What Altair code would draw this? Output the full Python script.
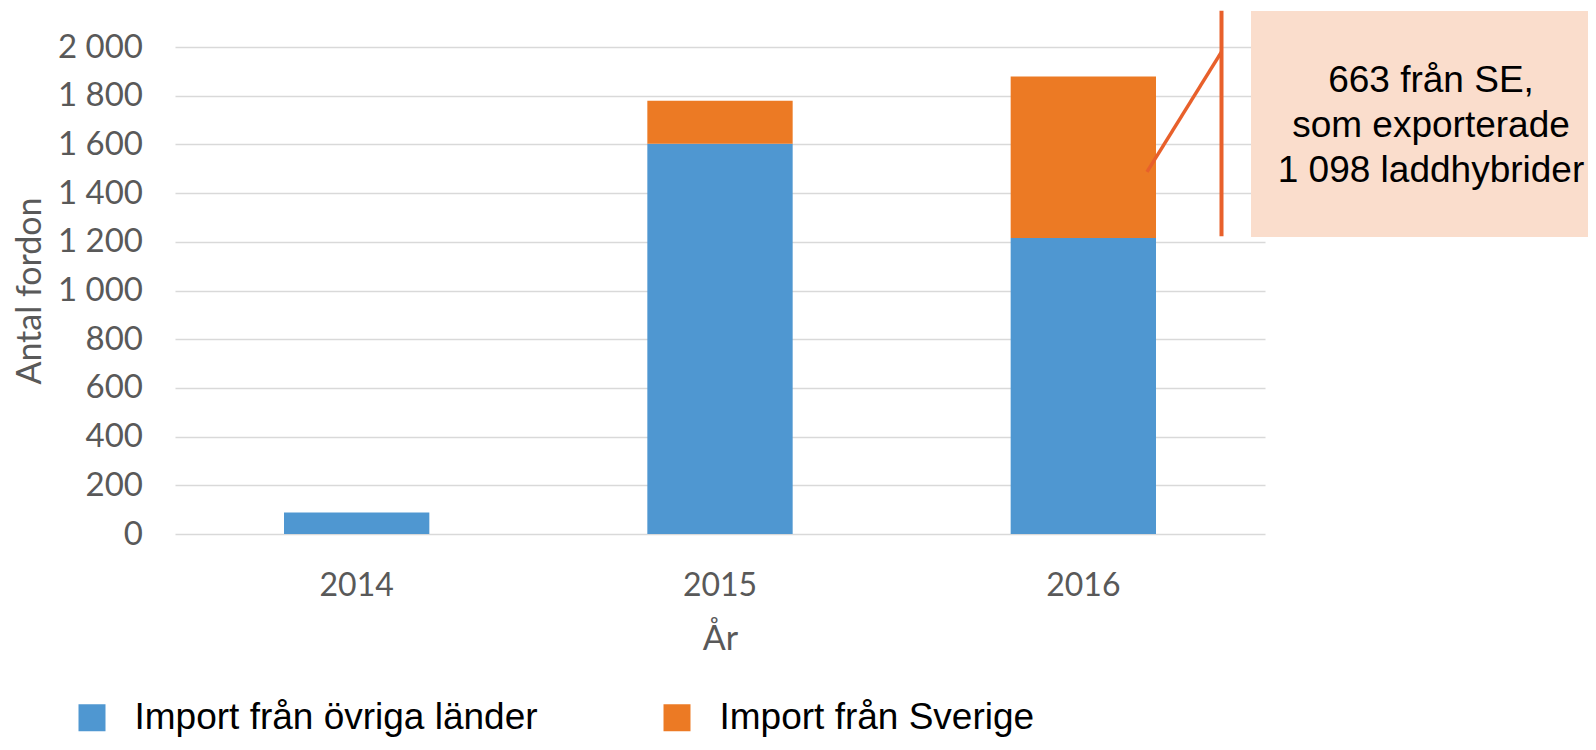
import altair as alt
import pandas as pd

# ---- data ----
years = ["2014", "2015", "2016"]
series = ["Import från övriga länder", "Import från Sverige"]
ovriga = [88, 1603, 1216]
sverige = [0, 176, 663]
colors = ["#4F97D1", "#EC7A24"]
y_ticks = [0, 200, 400, 600, 800, 1000, 1200, 1400, 1600, 1800, 2000]

# annotation (callout) texts and their value-levels
note_lines = ["663 från SE,", "som exporterade", "1 098 laddhybrider"]
note_line_y = [1816, 1631, 1446]
callout_vertical = [2149, 1223]      # y from / to of vertical callout line
callout_diag = [1487, 1980]          # y from (in bar) / to (at vertical line)
box_y = [2148, 1220]

rows = []
for i, yr in enumerate(years):
    rows.append({"year": yr, "series": series[0], "value": ovriga[i], "ord": 0})
    rows.append({"year": yr, "series": series[1], "value": sverige[i], "ord": 1})
df = pd.DataFrame(rows)

W, H = 1090, 487
# horizontal placement of callout elements (plot-relative pixels)
X_VLINE = 1046.5
X_DIAG_START = 972
X_BOX_L = 1076
X_BOX_R = 1421
X_TEXT = 1256

AXIS_FONT = "Lato"
AXIS_COLOR = "#595959"

y_scale = alt.Scale(domain=[0, 2000], nice=False, zero=True)

bars = alt.Chart(df).mark_bar().encode(
    x=alt.X("year:N", sort=years,
            scale=alt.Scale(paddingInner=0.6, paddingOuter=0.3),
            axis=alt.Axis(title="År", labelAngle=0, domain=False, ticks=False, tickSize=0,
                          labelPadding=61.5, labelBaseline="alphabetic",
                          labelFont=AXIS_FONT, labelFontSize=32, labelColor=AXIS_COLOR,
                          titleFont=AXIS_FONT, titleFontSize=34, titleColor=AXIS_COLOR,
                          titleFontWeight="normal", titleBaseline="alphabetic", titleY=115)),
    y=alt.Y("value:Q", stack="zero", scale=y_scale,
            axis=alt.Axis(title="Antal fordon", values=y_ticks, domain=False, ticks=False, tickSize=0,
                          labelPadding=32.5, gridColor="#D9D9D9", gridWidth=1.5,
                          labelExpr="replace(format(datum.value, ','), ',', ' ')",
                          labelFont=AXIS_FONT, labelFontSize=33, labelColor=AXIS_COLOR,
                          titleFont=AXIS_FONT, titleFontSize=34, titleColor=AXIS_COLOR,
                          titleFontWeight="normal", titleBaseline="alphabetic", titleX=-135)),
    color=alt.Color("series:N", sort=series,
                    scale=alt.Scale(domain=series, range=colors),
                    legend=alt.Legend(title=None, orient="none", direction="horizontal",
                                      legendX=-101.5, legendY=652, padding=0,
                                      symbolType="square", symbolSize=729, symbolStrokeWidth=0,
                                      symbolOpacity=1,
                                      labelFont="Liberation Sans", labelFontSize=37,
                                      labelColor="black", labelLimit=700, labelOffset=24,
                                      columnPadding=120)),
    order=alt.Order("ord:Q"),
)

box_df = pd.DataFrame({"value": [box_y[0]], "value2": [box_y[1]]})
box = alt.Chart(box_df).mark_rect(color="#FADDCC").encode(
    x=alt.value(X_BOX_L), x2=alt.value(X_BOX_R),
    y=alt.Y("value:Q", scale=y_scale), y2="value2:Q",
)

vline_df = pd.DataFrame({"value": [callout_vertical[0]], "value2": [callout_vertical[1]]})
vline = alt.Chart(vline_df).mark_rule(color="#E8602B", strokeWidth=4).encode(
    x=alt.value(X_VLINE), y=alt.Y("value:Q", scale=y_scale), y2="value2:Q",
)

diag_df = pd.DataFrame({"value": [callout_diag[0]], "value2": [callout_diag[1]]})
diag = alt.Chart(diag_df).mark_rule(color="#E8602B", strokeWidth=3.5).encode(
    x=alt.value(X_DIAG_START), x2=alt.value(X_VLINE),
    y=alt.Y("value:Q", scale=y_scale), y2="value2:Q",
)

text_df = pd.DataFrame({"t": note_lines, "value": note_line_y})
text = alt.Chart(text_df).mark_text(font="Liberation Sans", fontSize=37, color="black",
                                    align="center", baseline="alphabetic").encode(
    x=alt.value(X_TEXT), y=alt.Y("value:Q", scale=y_scale), text="t:N",
)

chart = alt.layer(bars, box, vline, diag, text).properties(
    width=W, height=H,
    autosize=alt.AutoSizeParams(type="none"),
    padding={"left": 167, "top": 39, "right": 323, "bottom": 204},
).configure_view(stroke=None)

chart.save("out.html", embed_options={"renderer": "svg", "actions": False})
